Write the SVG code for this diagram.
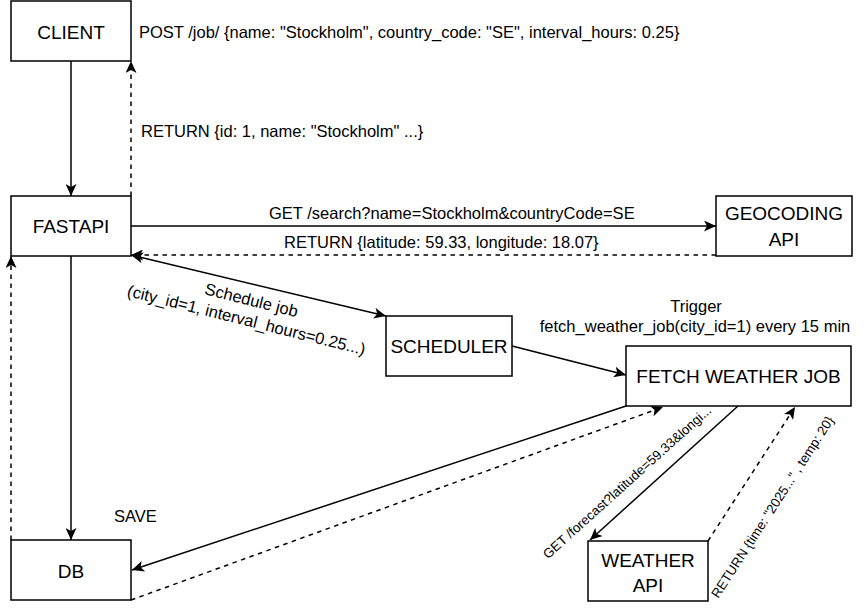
<svg xmlns="http://www.w3.org/2000/svg" width="867" height="614" viewBox="0 0 867 614">
<style>
.box{fill:#fff;stroke:#000;stroke-width:1.5}
.nt{font-family:"Liberation Sans",Arial,sans-serif;font-size:19px;fill:#000;text-anchor:middle}
.lb{font-family:"Liberation Sans",Arial,sans-serif;font-size:16.5px;fill:#000}
.sm{font-family:"Liberation Sans",Arial,sans-serif;font-size:13.3px;fill:#000;text-anchor:middle}
.e{fill:none;stroke:#000;stroke-width:1.5}
.d{stroke-dasharray:4.5 4.5}
</style>
<defs>
<marker id="arr" viewBox="0 0 12 11" refX="12" refY="5.5" markerWidth="12" markerHeight="11" markerUnits="userSpaceOnUse" orient="auto-start-reverse">
<path d="M0,0 L12,5.5 L0,11 L3,5.5 Z" fill="#000" stroke="none"/>
</marker>
</defs>
<rect width="867" height="614" fill="#fff"/>
<g id="connectors">
<path class="e" d="M71,61 L71,196" marker-end="url(#arr)"/>
<path class="e d" d="M131,196 L131,61" marker-end="url(#arr)"/>
<path class="e" d="M131,226 L716,226" marker-end="url(#arr)"/>
<path class="e d" d="M716,255 L131,255" marker-end="url(#arr)"/>
<path class="e" d="M131,255 L386,316" marker-start="url(#arr)" marker-end="url(#arr)"/>
<path class="e" d="M71,256 L71,540" marker-end="url(#arr)"/>
<path class="e d" d="M11,540 L11,256" marker-end="url(#arr)"/>
<path class="e" d="M512,346 L626,375" marker-end="url(#arr)"/>
<path class="e" d="M626,406 L132,570" marker-end="url(#arr)"/>
<path class="e d" d="M131,600 L663,407" marker-end="url(#arr)"/>
<path class="e" d="M738,406 L590,540" marker-end="url(#arr)"/>
<path class="e d" d="M708,541 L795,407" marker-end="url(#arr)"/>
</g>
<g id="labels">
<text class="lb" x="139" y="38">POST /job/ {name: "Stockholm", country_code: "SE", interval_hours: 0.25}</text>
<text class="lb" x="141" y="136.5">RETURN {id: 1, name: "Stockholm" ...}</text>
<text class="lb" x="269" y="218.5">GET /search?name=Stockholm&amp;countryCode=SE</text>
<text class="lb" x="284" y="248">RETURN {latitude: 59.33, longitude: 18.07}</text>
<g transform="translate(249,310) rotate(14)">
<text class="lb" text-anchor="middle" x="0" y="-4.5">Schedule job</text>
<text class="lb" text-anchor="middle" x="0" y="16">(city_id=1, interval_hours=0.25...)</text>
</g>
<text class="lb" text-anchor="middle" x="696" y="312">Trigger</text>
<text class="lb" text-anchor="middle" x="695" y="331.5">fetch_weather_job(city_id=1) every 15 min</text>
<text class="lb" x="114" y="522">SAVE</text>
<text class="sm" transform="translate(627,482) rotate(-42)" x="0" y="4.6">GET /forecast?latitude=59.33&amp;longi...</text>
<text class="sm" transform="translate(772.5,507) rotate(-57)" x="0" y="4.6">RETURN {time: "2025..." , temp: 20}</text>
</g>
<g id="client"><rect class="box" x="11" y="1" width="120" height="60"/><text class="nt" x="71" y="38.5">CLIENT</text></g>
<g id="fastapi"><rect class="box" x="11" y="196" width="120" height="60"/><text class="nt" x="71" y="233">FASTAPI</text></g>
<g id="db"><rect class="box" x="11" y="540" width="120" height="60"/><text class="nt" x="71" y="578">DB</text></g>
<g id="geocoding"><rect class="box" x="716" y="196" width="136" height="60"/><text class="nt" x="784" y="220">GEOCODING</text><text class="nt" x="784" y="246">API</text></g>
<g id="scheduler"><rect class="box" x="386" y="316" width="126" height="60"/><text class="nt" x="449" y="353">SCHEDULER</text></g>
<g id="fetch"><rect class="box" x="626" y="346" width="225" height="60"/><text class="nt" x="738.5" y="383">FETCH WEATHER JOB</text></g>
<g id="weather"><rect class="box" x="588" y="541" width="120" height="60"/><text class="nt" x="648" y="567">WEATHER</text><text class="nt" x="648" y="592">API</text></g>
</svg>
